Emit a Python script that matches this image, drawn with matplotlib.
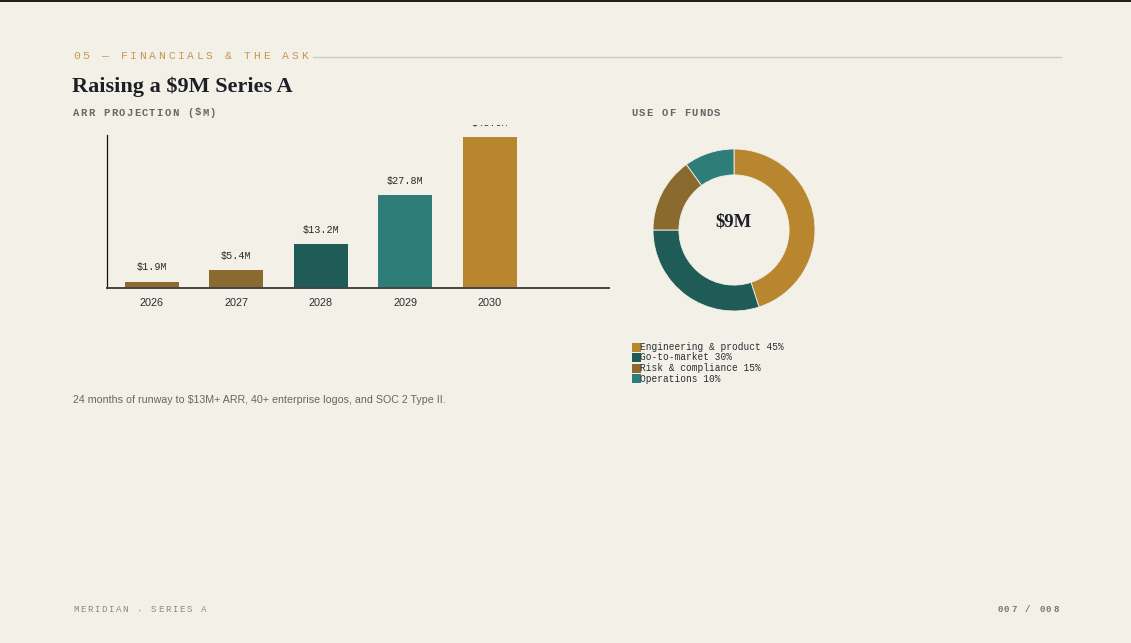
import matplotlib
matplotlib.use("Agg")
import matplotlib.pyplot as plt
from matplotlib.transforms import Bbox, TransformedBbox
from matplotlib.patches import Rectangle

# ---------------- data ----------------
years = ["2026", "2027", "2028", "2029", "2030"]
arr_values = [1.9, 5.4, 13.2, 27.8, 45.0]
arr_labels = ["$1.9M", "$5.4M", "$13.2M", "$27.8M", "$45.0M"]
bar_colors = ["#8b6a2f", "#8b6a2f", "#1f5c58", "#2e7d78", "#b8862f"]

fund_names = ["Engineering & product", "Go-to-market", "Risk & compliance", "Operations"]
fund_shares = [45, 30, 15, 10]
fund_colors = ["#b8862f", "#1f5c58", "#8b6a2f", "#2e7d78"]

BG = "#f3f0e8"
W, H = 1131, 643
MONO = "Liberation Mono"
SERIF = "Liberation Serif"
SANS = "Liberation Sans"

fig = plt.figure(figsize=(W / 100, H / 100), dpi=100, facecolor=BG)


def fx(px):
    return px / W


def fy(py):
    return 1 - py / H


def spaced(text, x0, yc, size_pt, advance_px, color, weight="normal"):
    for i, ch in enumerate(text):
        fig.text(fx(x0 + i * advance_px), fy(yc), ch, fontsize=size_pt,
                 family=MONO, color=color, va="center", ha="left",
                 fontweight=weight)


# top dark border
fig.patches.append(Rectangle((0, fy(2)), 1, 2 / H, transform=fig.transFigure,
                             facecolor="#222222", edgecolor="none"))

# header
spaced("05 — FINANCIALS & THE ASK", 73, 56, 8.2, 9.5, "#c8984e")
fig.add_artist(plt.Line2D([fx(313), fx(1061)], [fy(56.5), fy(56.5)],
                          color="#cfcbc2", lw=1.0, transform=fig.transFigure))

fig.text(fx(72), fy(87), "Raising a $9M Series A", fontsize=16, family=SERIF,
         fontweight="bold", color="#1c1f26", va="center", ha="left")

spaced("ARR PROJECTION ($M)", 73, 112.5, 7.6, 7.6, "#666666", weight="bold")
spaced("USE OF FUNDS", 631, 112.5, 7.6, 7.55, "#666666", weight="bold")

# ---------------- bar chart ----------------
ax = fig.add_axes([fx(107), fy(288), fx(609) - fx(107), fy(135) - fy(288)])
ax.set_facecolor(BG)
x = list(range(len(years)))
bars = ax.bar(x, arr_values, width=0.64, color=bar_colors)
ax.set_xlim(-0.53, 5.41)
ax.set_ylim(0, 45.6)
ax.set_xticks(x)
ax.set_xticklabels(years, family=SANS, fontsize=7.8, color="#2a2d33")
ax.tick_params(axis="x", length=0, pad=7.5)
ax.set_yticks([])
for s in ["top", "right"]:
    ax.spines[s].set_visible(False)
ax.spines["left"].set_color("#111111")
ax.spines["left"].set_linewidth(0.9)
ax.spines["bottom"].set_color("#444444")
ax.spines["bottom"].set_linewidth(1.4)

clip = TransformedBbox(Bbox([[0, 0], [1, fy(125.2)]]), fig.transFigure)
for xi, v, lab in zip(x, arr_values, arr_labels):
    t = ax.annotate(lab, (xi, v), xytext=(0, 10.2), textcoords="offset points",
                    ha="center", va="center", family=MONO, fontsize=7.3,
                    color="#2b2b2b", annotation_clip=False)
    t.set_clip_on(True)
    t.set_clip_box(clip)

# ---------------- donut ----------------
cx, cy, r = 734, 230, 81
pax = fig.add_axes([fx(cx - r), fy(cy + r), fx(2 * r), (2 * r) / H])
pax.set_facecolor("none")
pax.pie(fund_shares, colors=fund_colors, startangle=90, counterclock=False,
        radius=1.0, wedgeprops=dict(width=0.32, edgecolor=BG, linewidth=0.6))
pax.set_xlim(-1, 1)
pax.set_ylim(-1, 1)
pax.set_aspect("auto")
pax.axis("off")
pax.text(0, 0.1, "$9M", ha="center", va="center", family=SERIF,
         fontweight="bold", fontsize=13.5, color="#1c1f26")

# legend
leg_y = [347, 357.5, 368, 378.5]
for yy, name, share, col in zip(leg_y, fund_names, fund_shares, fund_colors):
    fig.patches.append(Rectangle((fx(632), fy(yy + 4.5)), 9 / W, 9 / H,
                                 transform=fig.transFigure, facecolor=col,
                                 edgecolor="none"))
    fig.text(fx(640.5), fy(yy), f"{name} {share}%", family=MONO, fontsize=6.85,
             color="#2a2d33", va="center", ha="left")

# footnote
fig.text(fx(73), fy(400), "24 months of runway to $13M+ ARR, 40+ enterprise logos, and SOC 2 Type II.",
         family=SANS, fontsize=7.62, color="#666666", va="center", ha="left")

# footer
spaced("MERIDIAN · SERIES A", 73, 610, 6.6, 7.1, "#8a8a86")
spaced("007 / 008", 997, 610, 6.6, 7.0, "#777773", weight="bold")

fig.savefig("out.png", dpi=100, facecolor=BG)
